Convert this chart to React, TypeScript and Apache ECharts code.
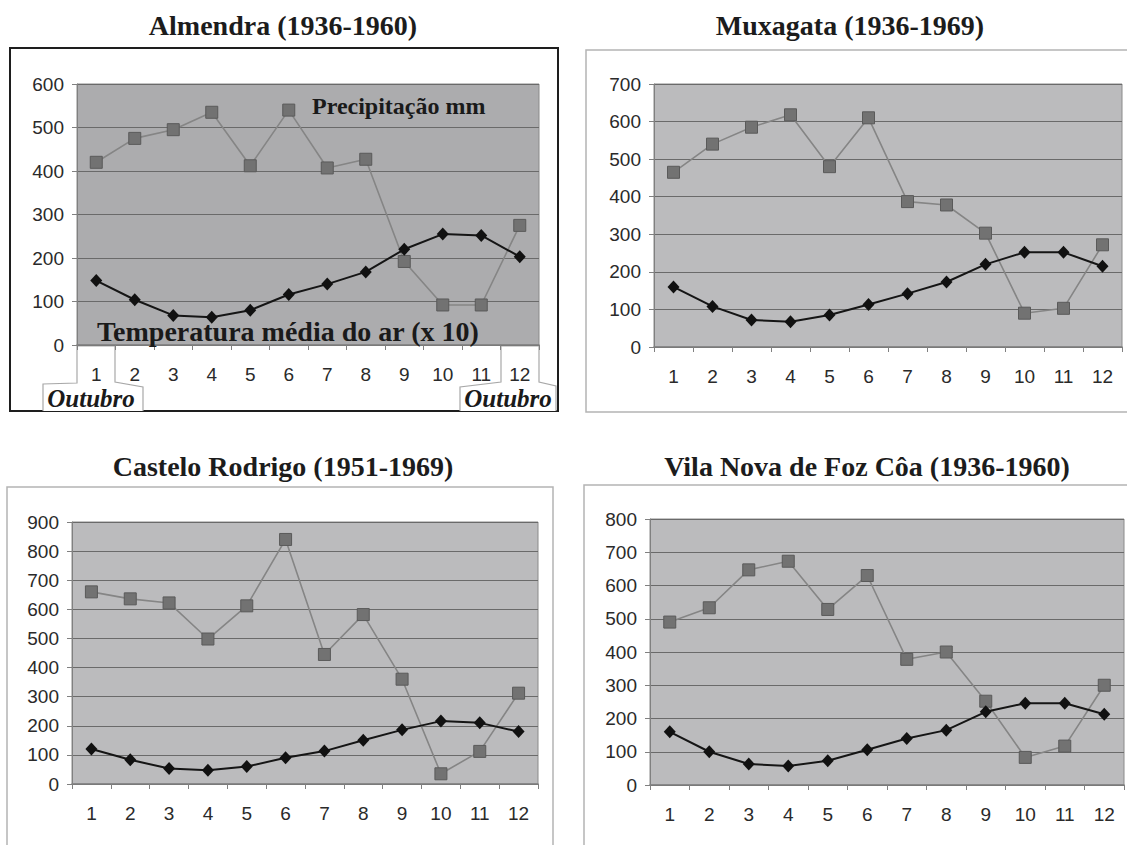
import React, { useEffect, useRef } from "react";
import * as echarts from "echarts";

const months = ["1", "2", "3", "4", "5", "6", "7", "8", "9", "10", "11", "12"];

const almendraPrecip = [420, 475, 495, 535, 412, 540, 407, 427, 192, 92, 92, 275];
const almendraTemp = [148, 104, 68, 64, 80, 116, 140, 168, 220, 255, 252, 203];

const muxagataPrecip = [465, 540, 585, 618, 480, 610, 387, 378, 303, 90, 103, 272];
const muxagataTemp = [160, 108, 72, 67, 85, 113, 142, 173, 220, 252, 252, 215];

const casteloPrecip = [660, 636, 622, 498, 612, 840, 445, 582, 360, 35, 112, 312];
const casteloTemp = [120, 83, 53, 47, 60, 90, 113, 150, 186, 216, 210, 180];

const vilaPrecip = [490, 533, 647, 673, 528, 630, 378, 400, 252, 83, 117, 300];
const vilaTemp = [160, 100, 63, 57, 73, 106, 140, 165, 220, 246, 246, 213];

const titles = [
  "Almendra (1936-1960)",
  "Muxagata (1936-1969)",
  "Castelo Rodrigo (1951-1969)",
  "Vila Nova de Foz Côa (1936-1960)",
];
const yMaxes = [600, 700, 900, 800];
const precipSeries = [almendraPrecip, muxagataPrecip, casteloPrecip, vilaPrecip];
const tempSeries = [almendraTemp, muxagataTemp, casteloTemp, vilaTemp];

const annotPrecip = "Precipitação mm";
const annotTemp = "Temperatura média do ar (x 10)";
const annotMonth = "Outubro";

// layout (pixels)
const grids = [
  { left: 77, top: 84, width: 462, height: 261, bg: "#acacae" },
  { left: 654, top: 84, width: 468, height: 263, bg: "#bbbbbd" },
  { left: 72, top: 522, width: 466, height: 262, bg: "#bbbbbd" },
  { left: 650, top: 519, width: 474, height: 266, bg: "#bbbbbd" },
];
const titlePos = [
  { x: 283, y: 25 },
  { x: 850, y: 25 },
  { x: 283, y: 466 },
  { x: 867, y: 466 },
];

export default function App() {
  const ref = useRef<HTMLDivElement>(null);
  useEffect(() => {
    if (!ref.current) return;
    const chart = echarts.init(ref.current, null, { renderer: "svg" });
    const sans = "Liberation Sans, Arial, sans-serif";
    const serif = "Liberation Serif, Times New Roman, serif";

    const option: any = {
      animation: false,
      backgroundColor: "#ffffff",
      grid: grids.map((g) => ({
        left: g.left,
        top: g.top,
        width: g.width,
        height: g.height,
        show: true,
        backgroundColor: g.bg,
        borderColor: "#8a8a8a",
        borderWidth: 1,
        containLabel: false,
      })),
      xAxis: grids.map((_, i) => ({
        type: "category",
        gridIndex: i,
        data: months,
        boundaryGap: true,
        axisLine: { show: true, lineStyle: { color: "#808080", width: 1.5 } },
        axisTick: { show: true, alignWithLabel: false, length: 5, lineStyle: { color: "#808080" } },
        axisLabel: { color: "#2a2a2a", fontSize: 19, fontFamily: sans, margin: 20 },
        splitLine: { show: false },
      })),
      yAxis: grids.map((_, i) => ({
        type: "value",
        gridIndex: i,
        min: 0,
        max: yMaxes[i],
        interval: 100,
        axisLine: { show: true, lineStyle: { color: "#808080" } },
        axisTick: { show: true, length: 5, lineStyle: { color: "#808080" } },
        axisLabel: { color: "#2a2a2a", fontSize: 19, fontFamily: sans, margin: 13 },
        splitLine: { show: true, lineStyle: { color: "#6a6a6a", width: 1 } },
      })),
      series: [
        ...precipSeries.map((d, i) => ({
          type: "line",
          xAxisIndex: i,
          yAxisIndex: i,
          data: d,
          symbol: "rect",
          symbolSize: 12,
          itemStyle: { color: "#727272", borderColor: "#5a5a5a", borderWidth: 1 },
          lineStyle: { color: "#858585", width: 1.6 },
          z: 2,
        })),
        ...tempSeries.map((d, i) => ({
          type: "line",
          xAxisIndex: i,
          yAxisIndex: i,
          data: d,
          symbol: "diamond",
          symbolSize: [12, 13],
          itemStyle: { color: "#111111" },
          lineStyle: { color: "#151515", width: 2 },
          z: 3,
        })),
      ],
      graphic: [
        // frames
        { type: "rect", z: -10, shape: { x: 10, y: 48, width: 548, height: 363 }, style: { fill: "#ffffff", stroke: "#1e1e1e", lineWidth: 2 } },
        { type: "rect", z: -10, shape: { x: 586, y: 50, width: 560, height: 362 }, style: { fill: "#ffffff", stroke: "#b4b4b4", lineWidth: 1.5 } },
        { type: "rect", z: -10, shape: { x: 7, y: 487, width: 546, height: 400 }, style: { fill: "#ffffff", stroke: "#b4b4b4", lineWidth: 1.5 } },
        { type: "rect", z: -10, shape: { x: 584, y: 485, width: 560, height: 400 }, style: { fill: "#ffffff", stroke: "#b4b4b4", lineWidth: 1.5 } },
        // callouts (Almendra)
        {
          type: "polyline",
          z: -5,
          shape: { points: [[43, 411], [43, 384], [77, 383], [77, 346], [115, 346], [115, 382], [143, 387], [143, 411]] },
          style: { fill: "#ffffff", stroke: "#a8a8a8", lineWidth: 1.2 },
        },
        {
          type: "polyline",
          z: -5,
          shape: { points: [[460, 411], [460, 387], [501, 382], [501, 346], [539, 346], [539, 382], [556, 386], [556, 411]] },
          style: { fill: "#ffffff", stroke: "#a8a8a8", lineWidth: 1.2 },
        },
        // titles
        ...titles.map((t, i) => ({
          type: "text",
          z: 10,
          x: titlePos[i].x,
          y: titlePos[i].y,
          style: {
            text: t,
            fill: "#1c1c1c",
            font: `bold 28px ${serif}`,
            textAlign: "center",
            textVerticalAlign: "middle",
          },
        })),
        // annotations
        {
          type: "text",
          z: 10,
          x: 312,
          y: 106,
          style: { text: annotPrecip, fill: "#1a1a1a", font: `bold 24px ${serif}`, textAlign: "left", textVerticalAlign: "middle" },
        },
        {
          type: "text",
          z: 10,
          x: 97,
          y: 331,
          style: { text: annotTemp, fill: "#1a1a1a", font: `bold 28px ${serif}`, textAlign: "left", textVerticalAlign: "middle" },
        },
        {
          type: "text",
          z: 10,
          x: 91,
          y: 398,
          style: { text: annotMonth, fill: "#1a1a1a", font: `italic bold 25px ${serif}`, textAlign: "center", textVerticalAlign: "middle" },
        },
        {
          type: "text",
          z: 10,
          x: 508,
          y: 398,
          style: { text: annotMonth, fill: "#1a1a1a", font: `italic bold 25px ${serif}`, textAlign: "center", textVerticalAlign: "middle" },
        },
      ],
    };
    chart.setOption(option);
    return () => chart.dispose();
  }, []);
  return (
    <div
      ref={ref}
      style={{ position: "absolute", left: 0, top: 0, width: 1127, height: 845 }}
    />
  );
}
